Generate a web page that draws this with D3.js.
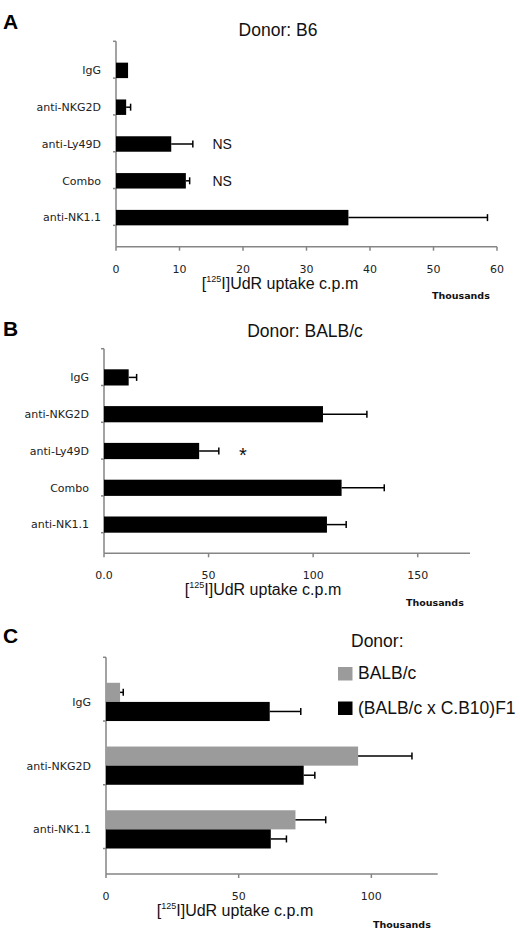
<!DOCTYPE html>
<html>
<head>
<meta charset="utf-8">
<script src="https://cdn.jsdelivr.net/npm/d3@7"></script>
<style>
  body { margin: 0; background: #fff; }
  svg { display: block; }
  .cat { font-family: "DejaVu Sans", sans-serif; font-size: 11px; fill: #222; }
  .tick-lbl { font-family: "DejaVu Sans", sans-serif; font-size: 11px; fill: #222; }
  .title { font-family: "Liberation Sans", Arial, sans-serif; font-size: 17.5px; fill: #111; }
  .xlabel { font-family: "Liberation Sans", Arial, sans-serif; font-size: 16px; fill: #111; }
  .thous { font-family: "DejaVu Sans", sans-serif; font-size: 9.5px; font-weight: bold; fill: #111; }
  .panel { font-family: "Liberation Sans", Arial, sans-serif; font-size: 21px; font-weight: bold; fill: #000; }
</style>
</head>
<body>
<svg id="chart" width="520" height="935"></svg>
<script>
// dados (valores em milhares de c.p.m)
const catsA = ["IgG", "anti-NKG2D", "anti-Ly49D", "Combo", "anti-NK1.1"];
const valsA = [1.9, 1.6, 8.7, 11.0, 36.6];
const errsA = [0, 0.7, 3.4, 0.6, 21.9];
const notesA = ["", "", "NS", "NS", ""];
const ticksA = [0, 10, 20, 30, 40, 50, 60];

const catsB = ["IgG", "anti-NKG2D", "anti-Ly49D", "Combo", "anti-NK1.1"];
const valsB = [11.8, 104.7, 45.5, 113.6, 106.6];
const errsB = [3.8, 21.0, 9.4, 20.4, 9.2];
const notesB = ["", "", "*", "", ""];
const ticksB = [0, 50, 100, 150];

const catsC = ["IgG", "anti-NKG2D", "anti-NK1.1"];
const seriesC = ["BALB/c", "(BALB/c x C.B10)F1"];
const valsBalb = [5.3, 95.0, 71.4];
const errsBalb = [1.2, 20.3, 11.4];
const valsF1 = [61.7, 74.5, 62.1];
const errsF1 = [11.7, 4.2, 5.9];
const ticksC = [0, 50, 100];

const seriesColors = ["#9b9b9b", "#000"];
const axisColor = "#858585";

const svg = d3.select("#chart");

// desenha os eixos, rótulos e títulos de um painel
function drawFrame(p) {
  const g = svg.append("g");

  const x = d3.scaleLinear().domain(p.domain).range([p.left, p.right]);
  const y = d3.scaleBand().domain(p.cats).range([p.top, p.bottom]).padding(p.pad);

  // linha do eixo y e ticks entre categorias
  g.append("line")
    .attr("x1", p.left).attr("x2", p.left)
    .attr("y1", p.top).attr("y2", p.bottom)
    .attr("stroke", axisColor).attr("stroke-width", 1.5);

  const step = y.step();
  d3.range(p.cats.length + 1).forEach((i) => {
    g.append("line")
      .attr("x1", p.left - 3).attr("x2", p.left)
      .attr("y1", p.top + i * step).attr("y2", p.top + i * step)
      .attr("stroke", axisColor).attr("stroke-width", 1.5);
  });

  // eixo x
  g.append("line")
    .attr("x1", p.left).attr("x2", p.right)
    .attr("y1", p.bottom).attr("y2", p.bottom)
    .attr("stroke", axisColor).attr("stroke-width", 1.5);

  g.selectAll(".xt")
    .data(p.ticks)
    .enter()
    .append("line")
    .attr("x1", (d) => x(d)).attr("x2", (d) => x(d))
    .attr("y1", p.bottom).attr("y2", p.bottom + 4)
    .attr("stroke", axisColor).attr("stroke-width", 1.5);

  g.selectAll(".tick-lbl")
    .data(p.ticks)
    .enter()
    .append("text")
    .attr("class", "tick-lbl")
    .attr("x", (d) => x(d))
    .attr("y", p.bottom + 26)
    .attr("text-anchor", "middle")
    .text((d) => p.tickFmt(d));

  // nomes das categorias
  g.selectAll(".cat")
    .data(p.cats)
    .enter()
    .append("text")
    .attr("class", "cat")
    .attr("x", p.left - 15)
    .attr("y", (d) => y(d) + y.bandwidth() / 2)
    .attr("dy", "0.35em")
    .attr("text-anchor", "end")
    .text((d) => d);

  // título do eixo x com o expoente 125
  const xl = g.append("text")
    .attr("class", "xlabel")
    .attr("x", p.xlabelX)
    .attr("y", p.bottom + 42)
    .attr("text-anchor", "middle");
  xl.append("tspan").text("[");
  xl.append("tspan").attr("font-size", 9).attr("dy", -7).text("125");
  xl.append("tspan").attr("dy", 7).text("I]UdR uptake c.p.m");

  g.append("text")
    .attr("class", "thous")
    .attr("x", p.thousX)
    .attr("y", p.bottom + p.thousDy)
    .text("Thousands");

  // letra do painel
  g.append("text")
    .attr("class", "panel")
    .attr("x", 3)
    .attr("y", p.letterY)
    .text(p.letter);

  if (p.title) {
    g.append("text")
      .attr("class", "title")
      .attr("x", p.titleX)
      .attr("y", p.titleY)
      .attr("text-anchor", "middle")
      .text(p.title);
  }

  return { g, x, y };
}

// barras com erro (só lado positivo, como no Excel)
function drawBars(g, x, yPos, h, vals, errs, color) {
  vals.forEach((v, i) => {
    const y0 = yPos(i);
    g.append("rect")
      .attr("x", x(0))
      .attr("y", y0)
      .attr("width", x(v) - x(0))
      .attr("height", h)
      .attr("fill", color);

    if (errs[i] > 0) {
      const yc = y0 + h / 2;
      g.append("line")
        .attr("x1", x(v)).attr("x2", x(v + errs[i]))
        .attr("y1", yc).attr("y2", yc)
        .attr("stroke", "#000").attr("stroke-width", 1.5);
      g.append("line")
        .attr("x1", x(v + errs[i])).attr("x2", x(v + errs[i]))
        .attr("y1", yc - 3.5).attr("y2", yc + 3.5)
        .attr("stroke", "#000").attr("stroke-width", 1.5);
    }
  });
}

// painel A
const a = drawFrame({
  cats: catsA, domain: [0, 60], ticks: ticksA, tickFmt: (d) => d,
  left: 116, right: 497, top: 41.3, bottom: 246.7, pad: 0.58,
  xlabelX: 280, thousX: 432, thousDy: 52,
  letter: "A", letterY: 29, title: "Donor: B6", titleX: 278, titleY: 36
});
drawBars(a.g, a.x, (i) => a.y(catsA[i]), a.y.bandwidth(), valsA, errsA, "#000");
a.g.selectAll(".note")
  .data(catsA)
  .enter()
  .append("text")
  .attr("class", "title")
  .style("font-size", "14px")
  .attr("x", 212.5)
  .attr("y", (d) => a.y(d) + a.y.bandwidth() / 2)
  .attr("dy", "0.35em")
  .text((d, i) => notesA[i]);

// painel B
const b = drawFrame({
  cats: catsB, domain: [0, 175], ticks: ticksB, tickFmt: (d) => (d === 0 ? "0.0" : d),
  left: 104, right: 470, top: 348.7, bottom: 553.3, pad: 0.56,
  xlabelX: 263, thousX: 406, thousDy: 53,
  letter: "B", letterY: 336, title: "Donor: BALB/c", titleX: 305, titleY: 337
});
drawBars(b.g, b.x, (i) => b.y(catsB[i]), b.y.bandwidth(), valsB, errsB, "#000");
b.g.selectAll(".note")
  .data(catsB)
  .enter()
  .append("text")
  .attr("class", "title")
  .style("font-size", "20px")
  .attr("x", 243)
  .attr("y", (d) => b.y(d) + b.y.bandwidth() / 2 + 11)
  .attr("text-anchor", "middle")
  .text((d, i) => notesB[i]);

// painel C (barras agrupadas)
const c = drawFrame({
  cats: catsC, domain: [0, 125], ticks: ticksC, tickFmt: (d) => d,
  left: 106, right: 437.7, top: 657.3, bottom: 874, pad: 0.4,
  xlabelX: 235, thousX: 373, thousDy: 54,
  letter: "C", letterY: 643
});
const ys = d3.scaleBand().domain(seriesC).range([0, c.y.bandwidth()]);
drawBars(c.g, c.x, (i) => c.y(catsC[i]) + ys(seriesC[0]), ys.bandwidth(), valsBalb, errsBalb, seriesColors[0]);
drawBars(c.g, c.x, (i) => c.y(catsC[i]) + ys(seriesC[1]), ys.bandwidth(), valsF1, errsF1, seriesColors[1]);

// legenda
const leg = svg.append("g").attr("transform", "translate(338, 647)");
leg.append("text").attr("class", "title").attr("x", 13).attr("y", 0).text("Donor:");
seriesC.forEach((s, i) => {
  leg.append("rect")
    .attr("x", 0).attr("y", 20 + i * 34.5)
    .attr("width", 14.5).attr("height", 13.5)
    .attr("fill", seriesColors[i]);
  leg.append("text")
    .attr("class", "title")
    .attr("x", 20)
    .attr("y", 32 + i * 35)
    .text(s);
});
</script>
</body>
</html>
